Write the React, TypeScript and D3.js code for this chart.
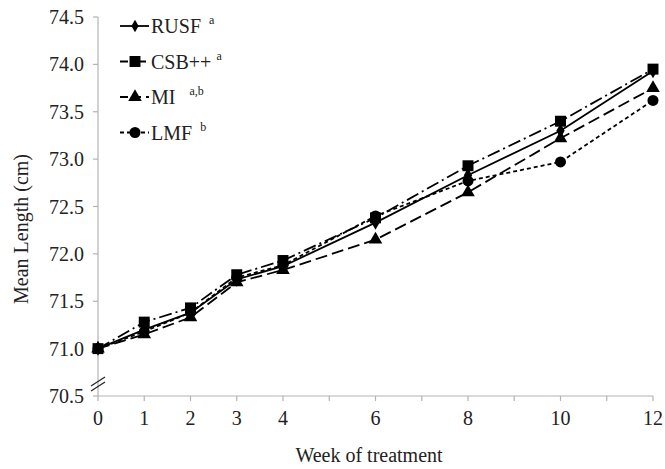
import { useEffect, useRef } from "react";
import * as d3 from "d3";

const weeks = [0, 1, 2, 3, 4, 6, 8, 10, 12];
const rusf = [71.0, 71.2, 71.38, 71.73, 71.87, 72.33, 72.83, 73.3, 73.93];
const csb = [71.0, 71.28, 71.43, 71.78, 71.93, 72.38, 72.93, 73.4, 73.95];
const mi = [71.0, 71.15, 71.33, 71.7, 71.83, 72.15, 72.65, 73.22, 73.75];
const lmf = [71.0, 71.18, 71.38, 71.75, 71.88, 72.4, 72.77, 72.97, 73.62];
const seriesNames = ["RUSF", "CSB++", "MI", "LMF"];
const seriesSup = ["a", "a", "a,b", "b"];
const yTicks = [70.5, 71.0, 71.5, 72.0, 72.5, 73.0, 73.5, 74.0, 74.5];
const xLabels = [0, 1, 2, 3, 4, 6, 8, 10, 12];

const App = () => {
  const svgRef = useRef<SVGSVGElement>(null);

  useEffect(() => {
    const svg = d3.select(svgRef.current);
    svg.selectAll("*").remove();

    const font = "Liberation Serif";
    const fs = 20;
    const x = d3.scaleLinear().domain([0, 12]).range([98, 653]);
    const y = d3.scaleLinear().domain([70.5, 74.5]).range([396, 17]);

    // y axis
    svg.append("line")
      .attr("x1", x(0)).attr("x2", x(0))
      .attr("y1", y(74.5)).attr("y2", y(70.5))
      .attr("stroke", "#b3b3b3").attr("stroke-width", 1.2);
    yTicks.forEach((t) => {
      svg.append("line")
        .attr("x1", x(0) - 5).attr("x2", x(0))
        .attr("y1", y(t)).attr("y2", y(t))
        .attr("stroke", "#b3b3b3").attr("stroke-width", 1.2);
      svg.append("text")
        .attr("x", x(0) - 14).attr("y", y(t) + 7)
        .attr("text-anchor", "end")
        .style("font-family", font).attr("font-size", fs)
        .attr("fill", "#222")
        .text(t.toFixed(1));
    });

    // x axis
    svg.append("line")
      .attr("x1", x(0)).attr("x2", x(12))
      .attr("y1", y(70.5)).attr("y2", y(70.5))
      .attr("stroke", "#b3b3b3").attr("stroke-width", 1.2);
    d3.range(0, 13).forEach((w) => {
      svg.append("line")
        .attr("x1", x(w)).attr("x2", x(w))
        .attr("y1", y(70.5)).attr("y2", y(70.5) + 5)
        .attr("stroke", "#b3b3b3").attr("stroke-width", 1.2);
    });
    xLabels.forEach((w) => {
      svg.append("text")
        .attr("x", x(w)).attr("y", y(70.5) + 29)
        .attr("text-anchor", "middle")
        .style("font-family", font).attr("font-size", fs)
        .attr("fill", "#222")
        .text(w);
    });

    // axis break
    [0, 5].forEach((dy) => {
      svg.append("line")
        .attr("x1", x(0) - 7).attr("x2", x(0) + 7)
        .attr("y1", 386 + dy).attr("y2", 377 + dy)
        .attr("stroke", "#222").attr("stroke-width", 1.2);
    });

    // titles
    svg.append("text")
      .attr("transform", `translate(28,229) rotate(-90)`)
      .attr("text-anchor", "middle")
      .style("font-family", font).attr("font-size", fs)
      .attr("fill", "#222")
      .text("Mean Length (cm)");
    svg.append("text")
      .attr("x", 369).attr("y", 462)
      .attr("text-anchor", "middle")
      .style("font-family", font).attr("font-size", fs)
      .attr("fill", "#222")
      .text("Week of treatment");

    const allSeries = [rusf, csb, mi, lmf];
    const dashes = ["none", "13,4,2,4", "12,5", "4,3"];
    const symbols = [d3.symbolDiamond, d3.symbolSquare, d3.symbolTriangle, d3.symbolCircle];
    const sizes = [60, 120, 80, 95];

    const line = d3.line<number>()
      .x((d, i) => x(weeks[i]))
      .y((d) => y(d));

    allSeries.forEach((s, k) => {
      svg.append("path")
        .attr("d", line(s))
        .attr("fill", "none")
        .attr("stroke", "#000")
        .attr("stroke-width", 1.8)
        .attr("stroke-dasharray", dashes[k]);
    });
    // markers: squares on top as in the reference
    [3, 2, 0, 1].forEach((k) => {
      allSeries[k].forEach((v, i) => {
        svg.append("path")
          .attr("d", d3.symbol().type(symbols[k]).size(sizes[k])())
          .attr("transform", `translate(${x(weeks[i])},${y(v)})`)
          .attr("fill", "#000");
      });
    });

    // legend
    const legendDash = ["none", "8,4,2,4", "8,5", "4,3"];
    seriesNames.forEach((name, k) => {
      const ly = 26 + k * 35.5;
      const lx = 120;
      svg.append("line")
        .attr("x1", lx).attr("x2", lx + 29)
        .attr("y1", ly).attr("y2", ly)
        .attr("stroke", "#000").attr("stroke-width", 1.8)
        .attr("stroke-dasharray", legendDash[k]);
      svg.append("path")
        .attr("d", d3.symbol().type(symbols[k]).size(k === 0 ? 45 : sizes[k])())
        .attr("transform", `translate(${lx + 15},${ly})`)
        .attr("fill", "#000");
      const t = svg.append("text")
        .attr("x", lx + 31).attr("y", ly + 7)
        .style("font-family", font).attr("font-size", fs)
        .attr("fill", "#222")
        .text(name);
      t.append("tspan")
        .attr("dx", k === 2 ? 14 : k === 1 ? 5 : 8).attr("dy", -9)
        .attr("font-size", 12)
        .text(seriesSup[k]);
    });
  }, []);

  return (
    <svg
      ref={svgRef}
      width={665}
      height={469}
      style={{ position: "absolute", left: 0, top: 0, background: "#fff" }}
    ></svg>
  );
};

export default App;
